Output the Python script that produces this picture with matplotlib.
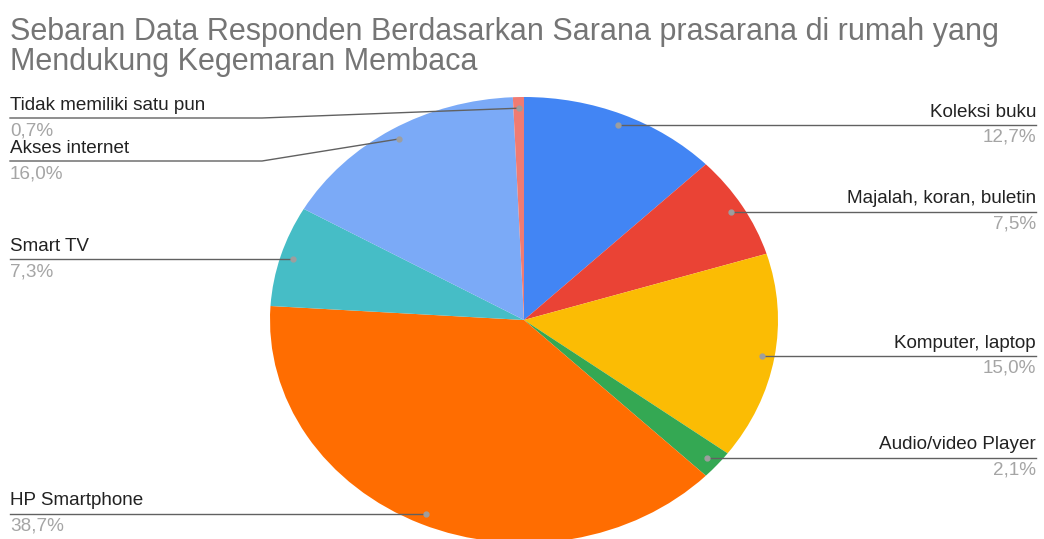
import numpy as np
import matplotlib.pyplot as plt

plt.rcParams['font.family'] = ['Liberation Sans', 'DejaVu Sans']

categories = ["Koleksi buku", "Majalah, koran, buletin", "Komputer, laptop",
              "Audio/video Player", "HP Smartphone", "Smart TV",
              "Akses internet", "Tidak memiliki satu pun"]
values = [12.7, 7.5, 15.0, 2.1, 38.7, 7.3, 16.0, 0.7]
pct_labels = ["12,7%", "7,5%", "15,0%", "2,1%", "38,7%", "7,3%", "16,0%", "0,7%"]
colors = ["#4285F4", "#EA4335", "#FBBC04", "#34A853", "#FF6D01", "#46BDC6",
          "#7BAAF7", "#F07B72"]

# pixel layout of the original (pie drawn slightly squashed)
W, H = 1044, 539
cx, cy, rx, ry = 524, 320, 254, 223
# label line y (pixels) for labels that are moved off the dot height
label_y_px = {"Akses internet": 161, "Tidak memiliki satu pun": 118}

fig = plt.figure(figsize=(W / 100, H / 100), dpi=100)
ax = fig.add_axes([0, 0, 1, 1])
ax.pie(values, colors=colors, startangle=90, counterclock=False,
       radius=1, center=(0, 0), wedgeprops=dict(linewidth=0))
ax.set_aspect('auto')
ax.set_xlim(-cx / rx, (W - cx) / rx)
ax.set_ylim(-(H - cy) / ry, cy / ry)
ax.axis('off')


def to_data(px, py):
    return (px - cx) / rx, (cy - py) / ry


cum = 0
for name, v, pct in zip(categories, values, pct_labels):
    mid = np.deg2rad(90 - (cum + v / 2) * 3.6)
    cum += v
    dx, dy = 0.95 * np.cos(mid), 0.95 * np.sin(mid)
    ax.plot(dx, dy, 'o', ms=3.5, color="#9e9e9e", zorder=5)
    dot_py = cy - dy * ry
    ly_px = label_y_px.get(name, dot_py)
    _, ly = to_data(0, ly_px)
    if dx > 0:
        xe, _ = to_data(1036, 0)
        ax.plot([dx, xe], [dy, ly], color="#616161", lw=1, zorder=4)
        ha = 'right'
        tx = xe
    else:
        xs, _ = to_data(10, 0)
        if name in label_y_px:
            xk, _ = to_data(262, 0)
            ax.plot([xs, xk, dx], [ly, ly, dy], color="#616161", lw=1, zorder=4)
        else:
            ax.plot([xs, dx], [ly, ly], color="#616161", lw=1, zorder=4)
        ha = 'left'
        tx = xs
    ax.annotate(name, (tx, ly), xytext=(0, 3), textcoords='offset points',
                ha=ha, va='bottom', fontsize=13.6, color="#222222")
    ax.annotate(pct, (tx, ly), xytext=(0, -3), textcoords='offset points',
                ha=ha, va='top', fontsize=13.6, color="#a5a5a5")

fig.text(10 / W, 1 - 17 / H,
         "Sebaran Data Responden Berdasarkan Sarana prasarana di rumah yang\n"
         "Mendukung Kegemaran Membaca",
         ha='left', va='top', fontsize=22, color="#757575", linespacing=1.0)

fig.savefig("out.png", dpi=100)
